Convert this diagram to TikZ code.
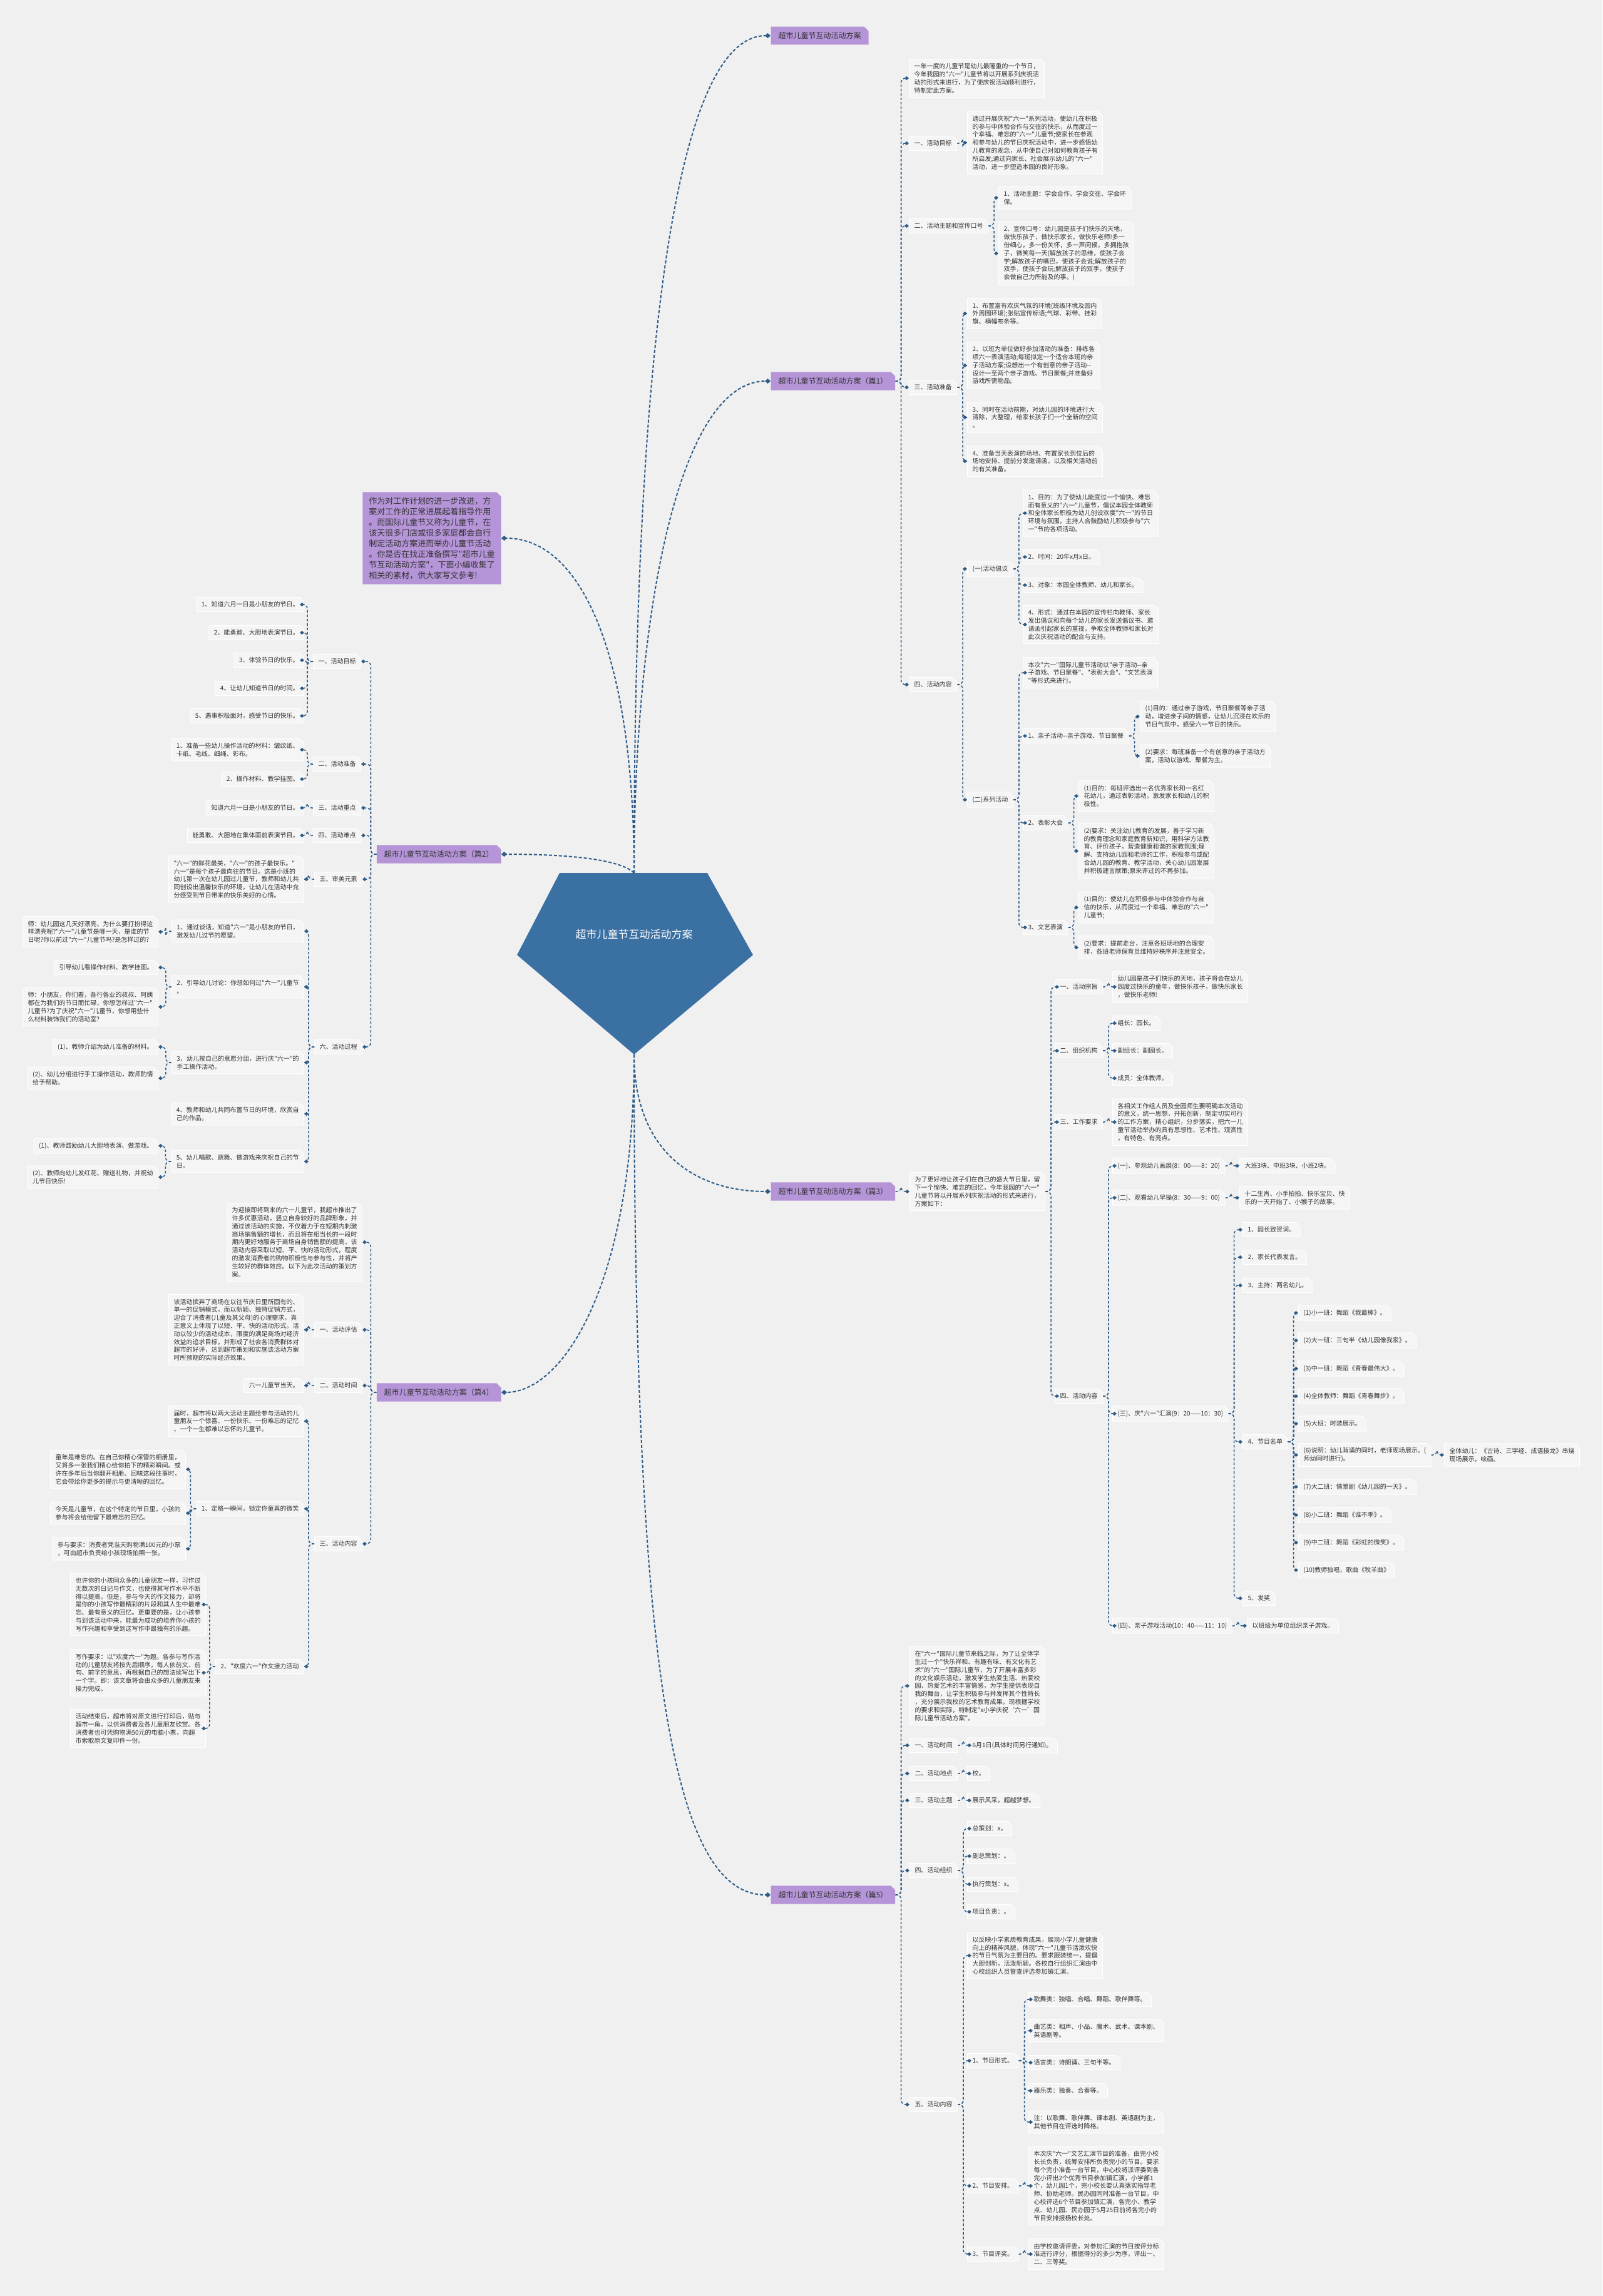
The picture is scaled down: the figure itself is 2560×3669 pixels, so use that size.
\documentclass[tikz,border=0pt]{standalone}
\usepackage{fontspec}
\newfontfamily\cjk{Noto Sans CJK SC}
\usepackage{xcolor}
\definecolor{mmbg}{RGB}{240,240,240}
\definecolor{mmbox}{RGB}{245,245,245}
\definecolor{mmpurple}{RGB}{181,148,216}
\definecolor{mmblue}{RGB}{46,92,135}
\definecolor{mmroot}{RGB}{59,112,163}
\definecolor{mmtext}{RGB}{51,51,51}
\usepackage{tikz}
\usetikzlibrary{arrows.meta, shapes.misc}

\tikzset{
  leaf/.style={chamfered rectangle, chamfered rectangle corners=north east, chamfered rectangle xsep=4pt, fill=mmbox, draw=white, line width=1pt, inner xsep=4pt, inner ysep=4pt, text=mmtext, align=left, font=\cjk\fontsize{10pt}{12.8pt}\selectfont},
  head/.style={leaf, fill=mmpurple, draw=none, inner xsep=8pt, inner ysep=6pt, font=\cjk\fontsize{12pt}{15pt}\selectfont},
  note/.style={head, inner xsep=6pt, inner ysep=5pt, font=\cjk\fontsize{13pt}{17pt}\selectfont},
  link/.style={draw=mmblue, line width=1.5pt, dash pattern=on 4pt off 3pt, rounded corners=7pt, -{Diamond[length=7pt,width=6pt]}},
  rootlink/.style={draw=mmblue, line width=2pt, dash pattern=on 5pt off 3pt, -{Diamond[length=9pt,width=8pt]}},
}

\begin{document}
\begin{tikzpicture}[x=1pt, y=-1pt]
\fill[mmbg] (0,0) rectangle (2560,3669);
\useasboundingbox (0,0) rectangle (2560,3669);

\fill[mmroot] (894,1395) -- (1130,1395) -- (1203,1526) -- (1013,1685) -- (826,1526) -- cycle;
\node[font=\cjk\fontsize{17pt}{20pt}\selectfont, text=white] (root) at (1013,1493) {超市儿童节互动活动方案};
\coordinate (rt) at (1013,1395);
\coordinate (rb) at (1013,1685);

\node[head, anchor=west] (b0) at (1231,57) {超市儿童节互动活动方案};
\node[head, anchor=west] (b1) at (1231,609) {超市儿童节互动活动方案（篇1）};
\node[head, anchor=west] (b3) at (1231,1904) {超市儿童节互动活动方案（篇3）};
\node[head, anchor=west] (b5) at (1231,3028) {超市儿童节互动活动方案（篇5）};
\node[note, anchor=east] (lint) at (801,860) {作为对工作计划的进一步改进，方\\案对工作的正常进展起着指导作用\\。而国际儿童节又称为儿童节，在\\该天很多门店或很多家庭都会自行\\制定活动方案进而举办儿童节活动\\。你是否在找正准备撰写"超市儿童\\节互动活动方案"，下面小编收集了\\相关的素材，供大家写文参考!};
\node[head, anchor=east] (b2) at (801,1365) {超市儿童节互动活动方案（篇2）};
\node[head, anchor=east] (b4) at (801,2225) {超市儿童节互动活动方案（篇4）};

\node[leaf, anchor=west] (b1i) at (1452,125) {一年一度的儿童节是幼儿最隆重的一个节日，\\今年我园的"六一"儿童节将以开展系列庆祝活\\动的形式来进行，为了使庆祝活动顺利进行，\\特制定此方案。};
\node[leaf, anchor=west] (b1a) at (1452,229) {一、活动目标};
\node[leaf, anchor=west] (b1a1) at (1545,228) {通过开展庆祝"六一"系列活动，使幼儿在积极\\的参与中体验合作与交往的快乐，从而度过一\\个幸福、难忘的"六一"儿童节;使家长在参观\\和参与幼儿的节日庆祝活动中，进一步感悟幼\\儿教育的观念，从中使自己对如何教育孩子有\\所启发;通过向家长、社会展示幼儿的"六一"\\活动，进一步塑造本园的良好形象。};
\node[leaf, anchor=west] (b1b) at (1452,361) {二、活动主题和宣传口号};
\node[leaf, anchor=west] (b1b1) at (1595,316) {1、活动主题：学会合作、学会交往、学会环\\保。};
\node[leaf, anchor=west] (b1b2) at (1595,405) {2、宣传口号：幼儿园是孩子们快乐的天地，\\做快乐孩子，做快乐家长，做快乐老师!多一\\份细心，多一份关怀，多一声问候，多拥抱孩\\子，微笑每一天(解放孩子的思维，使孩子会\\学;解放孩子的嘴巴，使孩子会说;解放孩子的\\双手，使孩子会玩;解放孩子的双手，使孩子\\会做自己力所能及的事。)};
\node[leaf, anchor=west] (b1c) at (1452,619) {三、活动准备};
\node[leaf, anchor=west] (b1c1) at (1545,501) {1、布置富有欢庆气氛的环境(班级环境及园内\\外周围环境);张贴宣传标语;气球、彩带、挂彩\\旗、横幅布条等。};
\node[leaf, anchor=west] (b1c2) at (1545,584) {2、以班为单位做好参加活动的准备：排练各\\项六一表演活动;每班拟定一个适合本班的亲\\子活动方案;设想出一个有创意的亲子活动--\\设计一至两个亲子游戏、节日聚餐;并准备好\\游戏所需物品;};
\node[leaf, anchor=west] (b1c3) at (1545,667) {3、同时在活动前期，对幼儿园的环境进行大\\清除，大整理，给家长孩子们一个全新的空间\\。};
\node[leaf, anchor=west] (b1c4) at (1545,737) {4、准备当天表演的场地、布置家长到位后的\\场地安排、提前分发邀请函，以及相关活动前\\的有关准备。};
\node[leaf, anchor=west] (b1d) at (1452,1094) {四、活动内容};
\node[leaf, anchor=west] (b1d1) at (1545,909) {(一)活动倡议};
\node[leaf, anchor=west] (b1d11) at (1634,820) {1、目的：为了使幼儿能度过一个愉快、难忘\\而有意义的"六一"儿童节，倡议本园全体教师\\和全体家长积极为幼儿创设欢度"六一"的节日\\环境与氛围，主持人合鼓励幼儿积极参与"六\\一"节的各项活动。};
\node[leaf, anchor=west] (b1d12) at (1634,890) {2、时间：20年x月x日。};
\node[leaf, anchor=west] (b1d13) at (1634,935) {3、对象：本园全体教师、幼儿和家长。};
\node[leaf, anchor=west] (b1d14) at (1634,998) {4、形式：通过在本园的宣传栏向教师、家长\\发出倡议和向每个幼儿的家长发送倡议书、邀\\请函引起家长的重视，争取全体教师和家长对\\此次庆祝活动的配合与支持。};
\node[leaf, anchor=west] (b1d2) at (1545,1278) {(二)系列活动};
\node[leaf, anchor=west] (b1d21) at (1634,1075) {本次"六一"国际儿童节活动以"亲子活动--亲\\子游戏、节日聚餐"、"表彰大会"、"文艺表演\\"等形式来进行。};
\node[leaf, anchor=west] (b1d22) at (1634,1176) {1、亲子活动--亲子游戏、节日聚餐};
\node[leaf, anchor=west] (b1d221) at (1821,1145) {(1)目的：通过亲子游戏，节日聚餐等亲子活\\动，增进亲子间的情感，让幼儿沉浸在欢乐的\\节日气氛中，感受六一节日的快乐。};
\node[leaf, anchor=west] (b1d222) at (1821,1208) {(2)要求：每班准备一个有创意的亲子活动方\\案，活动以游戏、聚餐为主。};
\node[leaf, anchor=west] (b1d23) at (1634,1315) {2、表彰大会};
\node[leaf, anchor=west] (b1d231) at (1723,1272) {(1)目的：每班评选出一名优秀家长和一名红\\花幼儿，通过表彰活动，激发家长和幼儿的积\\极性。};
\node[leaf, anchor=west] (b1d232) at (1723,1360) {(2)要求：关注幼儿教育的发展，善于学习新\\的教育理念和家庭教育新知识，用科学方法教\\育、评价孩子，营造健康和谐的家教氛围;理\\解、支持幼儿园和老师的工作，积极参与或配\\合幼儿园的教育、教学活动，关心幼儿园发展\\并积极建言献策;原来评过的不再参加。};
\node[leaf, anchor=west] (b1d24) at (1634,1482) {3、文艺表演};
\node[leaf, anchor=west] (b1d241) at (1723,1450) {(1)目的：使幼儿在积极参与中体验合作与自\\信的快乐，从而度过一个幸福、难忘的"六一"\\儿童节;};
\node[leaf, anchor=west] (b1d242) at (1723,1514) {(2)要求：提前走台，注意各班场地的合理安\\排，各班老师保育员维持好秩序并注意安全。};

\node[leaf, anchor=west] (b3i) at (1453,1904) {为了更好地让孩子们在自己的盛大节日里，留\\下一个愉快、难忘的回忆，今年我园的"六一"\\儿童节将以开展系列庆祝活动的形式来进行，\\方案如下：};
\node[leaf, anchor=west] (b3a) at (1685,1577) {一、活动宗旨};
\node[leaf, anchor=west] (b3a1) at (1777,1577) {幼儿园是孩子们快乐的天地，孩子将会在幼儿\\园度过快乐的童年，做快乐孩子，做快乐家长\\，做快乐老师!};
\node[leaf, anchor=west] (b3b) at (1685,1679) {二、组织机构};
\node[leaf, anchor=west] (b3b1) at (1777,1635) {组长：园长。};
\node[leaf, anchor=west] (b3b2) at (1777,1679) {副组长：副园长。};
\node[leaf, anchor=west] (b3b3) at (1777,1723) {成员：全体教师。};
\node[leaf, anchor=west] (b3c) at (1685,1793) {三、工作要求};
\node[leaf, anchor=west] (b3c1) at (1777,1793) {各相关工作组人员及全园师生要明确本次活动\\的意义，统一思想，开拓创新，制定切实可行\\的工作方案，精心组织，分步落实，把六一儿\\童节活动举办的具有思想性、艺术性、观赏性\\，有特色、有亮点。};
\node[leaf, anchor=west] (b3d) at (1685,2231) {四、活动内容};
\node[leaf, anchor=west] (b3d1) at (1777,1863) {(一)、参观幼儿画展(8：00——8：20)};
\node[leaf, anchor=west] (b3d11) at (1980,1863) {大班3块、中班3块、小班2块。};
\node[leaf, anchor=west] (b3d2) at (1777,1914) {(二)、观看幼儿早操(8：30——9：00)};
\node[leaf, anchor=west] (b3d21) at (1980,1914) {十二生肖、小手拍拍、快乐宝贝、快\\乐的一天开始了、小猴子的故事。};
\node[leaf, anchor=west] (b3d3) at (1777,2259) {(三)、庆"六一"汇演(9：20——10：30)};
\node[leaf, anchor=west] (b3d31) at (1985,1965) {1、园长致贺词。};
\node[leaf, anchor=west] (b3d32) at (1985,2009) {2、家长代表发言。};
\node[leaf, anchor=west] (b3d33) at (1985,2054) {3、主持：两名幼儿。};
\node[leaf, anchor=west] (b3d34) at (1985,2304) {4、节目名单};
\node[leaf, anchor=west] (b3d35) at (1985,2554) {5、发奖};
\node[leaf, anchor=west] (p1) at (2074,2098) {(1)小一班：舞蹈《我最棒》。};
\node[leaf, anchor=west] (p2) at (2074,2142) {(2)大一班：三句半《幼儿园像我家》。};
\node[leaf, anchor=west] (p3) at (2074,2187) {(3)中一班：舞蹈《青春最伟大》。};
\node[leaf, anchor=west] (p4) at (2074,2231) {(4)全体教师：舞蹈《青春舞步》。};
\node[leaf, anchor=west] (p5) at (2074,2275) {(5)大班：时装展示。};
\node[leaf, anchor=west] (p6) at (2074,2325) {(6)说明：幼儿背诵的同时，老师现场展示。(\\师幼同时进行)。};
\node[leaf, anchor=west] (p6a) at (2307,2325) {全体幼儿：《古诗、三字经、成语接龙》串烧\\现场展示，绘画。};
\node[leaf, anchor=west] (p7) at (2074,2376) {(7)大二班：情景剧《幼儿园的一天》。};
\node[leaf, anchor=west] (p8) at (2074,2421) {(8)小二班：舞蹈《谁不乖》。};
\node[leaf, anchor=west] (p9) at (2074,2465) {(9)中二班：舞蹈《彩虹的微笑》。};
\node[leaf, anchor=west] (p10) at (2074,2509) {(10)教师独唱，歌曲《牧羊曲》};
\node[leaf, anchor=west] (b3d4) at (1777,2598) {(四)、亲子游戏活动(10：40——11：10)};
\node[leaf, anchor=west] (b3d41) at (1992,2598) {以班级为单位组织亲子游戏。};

\node[leaf, anchor=west] (b5i) at (1453,2694) {在"六一"国际儿童节来临之际，为了让全体学\\生过一个"快乐祥和、有趣有味、有文化有艺\\术"的"六一"国际儿童节，为了开展丰富多彩\\的文化娱乐活动，激发学生热爱生活、热爱校\\园、热爱艺术的丰富情感，为学生提供表现自\\我的舞台，让学生积极参与并发挥其个性特长\\，充分展示我校的艺术教育成果。现根据学校\\的要求和实际，特制定"x小学庆祝‘六一’国\\际儿童节活动方案"。};
\node[leaf, anchor=west] (b5a) at (1453,2789) {一、活动时间};
\node[leaf, anchor=west] (b5a1) at (1545,2789) {6月1日(具体时间另行通知)。};
\node[leaf, anchor=west] (b5b) at (1453,2834) {二、活动地点};
\node[leaf, anchor=west] (b5b1) at (1545,2834) {校。};
\node[leaf, anchor=west] (b5c) at (1453,2877) {三、活动主题};
\node[leaf, anchor=west] (b5c1) at (1545,2877) {展示风采，超越梦想。};
\node[leaf, anchor=west] (b5d) at (1453,2989) {四、活动组织};
\node[leaf, anchor=west] (b5d1) at (1545,2922) {总策划：x。};
\node[leaf, anchor=west] (b5d2) at (1545,2966) {副总策划：。};
\node[leaf, anchor=west] (b5d3) at (1545,3011) {执行策划：x。};
\node[leaf, anchor=west] (b5d4) at (1545,3055) {项目负责：。};
\node[leaf, anchor=west] (b5e) at (1453,3363) {五、活动内容};
\node[leaf, anchor=west] (b5e1) at (1545,3125) {以反映小学素质教育成果，展现小学儿童健康\\向上的精神风貌，体现"六一"儿童节活泼欢快\\的节日气氛为主要目的。要求服装统一，提倡\\大胆创新，活泼新颖。各校自行组织汇演由中\\心校组织人员督查评选参加镇汇演。};
\node[leaf, anchor=west] (b5e2) at (1545,3293) {1、节目形式。};
\node[leaf, anchor=west] (f1) at (1643,3195) {歌舞类：独唱、合唱、舞蹈、歌伴舞等。};
\node[leaf, anchor=west] (f2) at (1643,3245) {曲艺类：相声、小品、魔术、武术、课本剧、\\英语剧等。};
\node[leaf, anchor=west] (f3) at (1643,3296) {语言类：诗朗诵、三句半等。};
\node[leaf, anchor=west] (f4) at (1643,3341) {器乐类：独奏、合奏等。};
\node[leaf, anchor=west] (f5) at (1643,3391) {注：以歌舞、歌伴舞、课本剧、英语剧为主，\\其他节目在评选时降格。};
\node[leaf, anchor=west] (b5e3) at (1545,3493) {2、节目安排。};
\node[leaf, anchor=west] (b5e31) at (1643,3493) {本次庆"六一"文艺汇演节目的准备，由完小校\\长长负责，统筹安排所负责完小的节目。要求\\每个完小准备一台节目，中心校将派评委到各\\完小评出2个优秀节目参加镇汇演，小学部1\\个，幼儿园1个，完小校长要认真落实指导老\\师、协助老师。民办园同时准备一台节目，中\\心校评选6个节目参加镇汇演，各完小、教学\\点、幼儿园、民办园于5月25日前将各完小的\\节目安排报杨校长处。};
\node[leaf, anchor=west] (b5e4) at (1545,3602) {3、节目评奖。};
\node[leaf, anchor=west] (b5e41) at (1643,3602) {由学校邀请评委，对参加汇演的节目按评分标\\准进行评分，根据得分的多少为序，评出一、\\二、三等奖。};

\node[leaf, anchor=east] (b2a) at (577,1057) {一、活动目标};
\node[leaf, anchor=east] (b2a1) at (486,966) {1、知道六月一日是小朋友的节日。};
\node[leaf, anchor=east] (b2a2) at (486,1011) {2、能勇敢、大胆地表演节目。};
\node[leaf, anchor=east] (b2a3) at (486,1055) {3、体验节日的快乐。};
\node[leaf, anchor=east] (b2a4) at (486,1100) {4、让幼儿知道节日的时间。};
\node[leaf, anchor=east] (b2a5) at (486,1144) {5、遇事积极面对，感受节日的快乐。};
\node[leaf, anchor=east] (b2b) at (577,1221) {二、活动准备};
\node[leaf, anchor=east] (b2b1) at (486,1198) {1、准备一些幼儿操作活动的材料：皱纹纸、\\卡纸、毛线、细绳、彩布。};
\node[leaf, anchor=east] (b2b2) at (486,1245) {2、操作材料、教学挂图。};
\node[leaf, anchor=east] (b2c) at (577,1291) {三、活动重点};
\node[leaf, anchor=east] (b2c1) at (486,1291) {知道六月一日是小朋友的节日。};
\node[leaf, anchor=east] (b2d) at (577,1335) {四、活动难点};
\node[leaf, anchor=east] (b2d1) at (486,1335) {能勇敢、大胆地在集体面前表演节目。};
\node[leaf, anchor=east] (b2e) at (579,1405) {五、审美元素};
\node[leaf, anchor=east] (b2e1) at (486,1405) {"六一"的鲜花最美，"六一"的孩子最快乐。"\\六一"是每个孩子最向往的节日。这是小班的\\幼儿第一次在幼儿园过儿童节，教师和幼儿共\\同创设出温馨快乐的环境，让幼儿在活动中充\\分感受到节日带来的快乐美好的心情。};
\node[leaf, anchor=east] (b2f) at (579,1673) {六、活动过程};
\node[leaf, anchor=east] (b2f1) at (486,1488) {1、通过谈话，知道"六一"是小朋友的节日，\\激发幼儿过节的愿望。};
\node[leaf, anchor=east] (b2f11) at (253,1489) {师：幼儿园这几天好漂亮，为什么要打扮得这\\样漂亮呢?"六一"儿童节是哪一天，是谁的节\\日呢?你以前过"六一"儿童节吗?是怎样过的?};
\node[leaf, anchor=east] (b2f2) at (486,1577) {2、引导幼儿讨论：你想如何过"六一"儿童节\\。};
\node[leaf, anchor=east] (b2f21) at (253,1546) {引导幼儿看操作材料、教学挂图。};
\node[leaf, anchor=east] (b2f22) at (253,1609) {师：小朋友，你们看，各行各业的叔叔、阿姨\\都在为我们的节日而忙碌，你想怎样过"六一"\\儿童节?为了庆祝"六一"儿童节，你想用些什\\么材料装饰我们的活动室?};
\node[leaf, anchor=east] (b2f3) at (486,1698) {3、幼儿按自己的意愿分组，进行庆"六一"的\\手工操作活动。};
\node[leaf, anchor=east] (b2f31) at (253,1673) {(1)、教师介绍为幼儿准备的材料。};
\node[leaf, anchor=east] (b2f32) at (253,1723) {(2)、幼儿分组进行手工操作活动，教师酌情\\给予帮助。};
\node[leaf, anchor=east] (b2f4) at (486,1780) {4、教师和幼儿共同布置节日的环境，欣赏自\\己的作品。};
\node[leaf, anchor=east] (b2f5) at (486,1856) {5、幼儿唱歌、跳舞、做游戏来庆祝自己的节\\日。};
\node[leaf, anchor=east] (b2f51) at (253,1831) {(1)、教师鼓励幼儿大胆地表演、做游戏。};
\node[leaf, anchor=east] (b2f52) at (253,1881) {(2)、教师向幼儿发红花、赠送礼物，并祝幼\\儿节日快乐!};

\node[leaf, anchor=east] (b4i) at (579,1985) {为迎接即将到来的六一儿童节，我超市推出了\\许多优惠活动，竖立自身较好的品牌形象，并\\通过该活动的实施，不仅着力于在短期内刺激\\商场销售额的增长，而且将在相当长的一段时\\期内更好地服务于商场自身销售额的提高，该\\活动内容采取以短、平、快的活动形式，程度\\的激发消费者的购物积极性与参与性，并将产\\生较好的群体效应。以下为此次活动的策划方\\案。};
\node[leaf, anchor=east] (b4a) at (579,2125) {一、活动评估};
\node[leaf, anchor=east] (b4a1) at (486,2125) {该活动摈弃了商场在以往节庆日里所固有的、\\单一的促销模式，而以新颖、独特促销方式，\\迎合了消费者(儿童及其父母)的心理需求，真\\正意义上体现了以短、平、快的活动形式。活\\动以较少的活动成本，限度的满足商场对经济\\效益的追求目标，并形成了社会各消费群体对\\超市的好评，达到超市策划和实施该活动方案\\时所预期的实际经济效果。};
\node[leaf, anchor=east] (b4b) at (579,2214) {二、活动时间};
\node[leaf, anchor=east] (b4b1) at (486,2214) {六一儿童节当天。};
\node[leaf, anchor=east] (b4c) at (579,2467) {三、活动内容};
\node[leaf, anchor=east] (b4c1) at (486,2271) {届时，超市将以两大活动主题给参与活动的儿\\童朋友一个惊喜、一份快乐、一份难忘的记忆\\、一个一生都难以忘怀的儿童节。};
\node[leaf, anchor=east] (b4c2) at (486,2411) {1、定格一瞬间，锁定你童真的微笑};
\node[leaf, anchor=east] (b4c21) at (297,2348) {童年是难忘的。在自己你精心保管的相册里，\\又将多一张我们精心给你拍下的精彩瞬间。或\\许在多年后当你翻开相册、回味这段往事时，\\它会带给你更多的提示与更清晰的回忆。};
\node[leaf, anchor=east] (b4c22) at (297,2418) {今天是儿童节，在这个特定的节日里，小孩的\\参与将会给他留下最难忘的回忆。};
\node[leaf, anchor=east] (b4c23) at (297,2475) {参与要求：消费者凭当天购物满100元的小票\\，可由超市负责给小孩现场拍照一张。};
\node[leaf, anchor=east] (b4c3) at (486,2663) {2、"欢度六一"作文接力活动};
\node[leaf, anchor=east] (b4c31) at (329,2564) {也许你的小孩同众多的儿童朋友一样，习作过\\无数次的日记与作文，也使得其写作水平不断\\得以提高。但是，参与今天的作文接力，却将\\是你的小孩写作最精彩的片段和其人生中最难\\忘、最有意义的回忆。更重要的是，让小孩参\\与到该活动中来，能最为成功的培养你小孩的\\写作兴趣和享受到这写作中最独有的乐趣。};
\node[leaf, anchor=east] (b4c32) at (329,2673) {写作要求：以"欢度六一"为题。各参与写作活\\动的儿童朋友将按先后顺序，每人依前文、前\\句、前字的意思，再根据自己的想法续写出下\\一个字。即：该文章将会由众多的儿童朋友来\\接力完成。};
\node[leaf, anchor=east] (b4c33) at (329,2762) {活动结束后，超市将对原文进行打印后，贴与\\超市一角，以供消费者及各儿童朋友欣赏。各\\消费者也可凭购物满50元的电脑小票，向超\\市索取原文复印件一份。};

\draw[rootlink] (rt) .. controls (1013,700) and (1060,57) .. (b0.west);
\draw[rootlink] (rt) .. controls (1013,1000) and (1080,609) .. (b1.west);
\draw[rootlink] (rb) .. controls (1013,1840) and (1110,1904) .. (b3.west);
\draw[rootlink] (rb) .. controls (1013,2700) and (1080,3028) .. (b5.west);
\draw[rootlink] (rt) .. controls (1013,1050) and (930,860) .. (lint.east);
\draw[rootlink] (rt) .. controls (990,1372) and (900,1365) .. (b2.east);
\draw[rootlink] (rb) .. controls (1013,2050) and (900,2225) .. (b4.east);

\draw[link] (b1.east) -- ++(9,0) |- (b1i.west);
\draw[link] (b1.east) -- ++(9,0) |- (b1a.west);
\draw[link] (b1.east) -- ++(9,0) |- (b1b.west);
\draw[link] (b1.east) -- ++(9,0) |- (b1c.west);
\draw[link] (b1.east) -- ++(9,0) |- (b1d.west);
\draw[link] (b1a.east) -- ++(9,0) |- (b1a1.west);
\draw[link] (b1b.east) -- ++(9,0) |- (b1b1.west);
\draw[link] (b1b.east) -- ++(9,0) |- (b1b2.west);
\draw[link] (b1c.east) -- ++(9,0) |- (b1c1.west);
\draw[link] (b1c.east) -- ++(9,0) |- (b1c2.west);
\draw[link] (b1c.east) -- ++(9,0) |- (b1c3.west);
\draw[link] (b1c.east) -- ++(9,0) |- (b1c4.west);
\draw[link] (b1d.east) -- ++(9,0) |- (b1d1.west);
\draw[link] (b1d.east) -- ++(9,0) |- (b1d2.west);
\draw[link] (b1d1.east) -- ++(9,0) |- (b1d11.west);
\draw[link] (b1d1.east) -- ++(9,0) |- (b1d12.west);
\draw[link] (b1d1.east) -- ++(9,0) |- (b1d13.west);
\draw[link] (b1d1.east) -- ++(9,0) |- (b1d14.west);
\draw[link] (b1d2.east) -- ++(9,0) |- (b1d21.west);
\draw[link] (b1d2.east) -- ++(9,0) |- (b1d22.west);
\draw[link] (b1d2.east) -- ++(9,0) |- (b1d23.west);
\draw[link] (b1d2.east) -- ++(9,0) |- (b1d24.west);
\draw[link] (b1d22.east) -- ++(9,0) |- (b1d221.west);
\draw[link] (b1d22.east) -- ++(9,0) |- (b1d222.west);
\draw[link] (b1d23.east) -- ++(9,0) |- (b1d231.west);
\draw[link] (b1d23.east) -- ++(9,0) |- (b1d232.west);
\draw[link] (b1d24.east) -- ++(9,0) |- (b1d241.west);
\draw[link] (b1d24.east) -- ++(9,0) |- (b1d242.west);

\draw[link] (b3.east) -- ++(9,0) |- (b3i.west);
\draw[link] (b3i.east) -- ++(9,0) |- (b3a.west);
\draw[link] (b3i.east) -- ++(9,0) |- (b3b.west);
\draw[link] (b3i.east) -- ++(9,0) |- (b3c.west);
\draw[link] (b3i.east) -- ++(9,0) |- (b3d.west);
\draw[link] (b3a.east) -- ++(9,0) |- (b3a1.west);
\draw[link] (b3b.east) -- ++(9,0) |- (b3b1.west);
\draw[link] (b3b.east) -- ++(9,0) |- (b3b2.west);
\draw[link] (b3b.east) -- ++(9,0) |- (b3b3.west);
\draw[link] (b3c.east) -- ++(9,0) |- (b3c1.west);
\draw[link] (b3d.east) -- ++(9,0) |- (b3d1.west);
\draw[link] (b3d.east) -- ++(9,0) |- (b3d2.west);
\draw[link] (b3d.east) -- ++(9,0) |- (b3d3.west);
\draw[link] (b3d.east) -- ++(9,0) |- (b3d4.west);
\draw[link] (b3d1.east) -- ++(9,0) |- (b3d11.west);
\draw[link] (b3d2.east) -- ++(9,0) |- (b3d21.west);
\draw[link] (b3d4.east) -- ++(9,0) |- (b3d41.west);
\draw[link] (b3d3.east) -- ++(9,0) |- (b3d31.west);
\draw[link] (b3d3.east) -- ++(9,0) |- (b3d32.west);
\draw[link] (b3d3.east) -- ++(9,0) |- (b3d33.west);
\draw[link] (b3d3.east) -- ++(9,0) |- (b3d34.west);
\draw[link] (b3d3.east) -- ++(9,0) |- (b3d35.west);
\draw[link] (b3d34.east) -- ++(9,0) |- (p1.west);
\draw[link] (b3d34.east) -- ++(9,0) |- (p2.west);
\draw[link] (b3d34.east) -- ++(9,0) |- (p3.west);
\draw[link] (b3d34.east) -- ++(9,0) |- (p4.west);
\draw[link] (b3d34.east) -- ++(9,0) |- (p5.west);
\draw[link] (b3d34.east) -- ++(9,0) |- (p6.west);
\draw[link] (b3d34.east) -- ++(9,0) |- (p7.west);
\draw[link] (b3d34.east) -- ++(9,0) |- (p8.west);
\draw[link] (b3d34.east) -- ++(9,0) |- (p9.west);
\draw[link] (b3d34.east) -- ++(9,0) |- (p10.west);
\draw[link] (p6.east) -- ++(9,0) |- (p6a.west);

\draw[link] (b5.east) -- ++(9,0) |- (b5i.west);
\draw[link] (b5.east) -- ++(9,0) |- (b5a.west);
\draw[link] (b5.east) -- ++(9,0) |- (b5b.west);
\draw[link] (b5.east) -- ++(9,0) |- (b5c.west);
\draw[link] (b5.east) -- ++(9,0) |- (b5d.west);
\draw[link] (b5.east) -- ++(9,0) |- (b5e.west);
\draw[link] (b5a.east) -- ++(9,0) |- (b5a1.west);
\draw[link] (b5b.east) -- ++(9,0) |- (b5b1.west);
\draw[link] (b5c.east) -- ++(9,0) |- (b5c1.west);
\draw[link] (b5d.east) -- ++(9,0) |- (b5d1.west);
\draw[link] (b5d.east) -- ++(9,0) |- (b5d2.west);
\draw[link] (b5d.east) -- ++(9,0) |- (b5d3.west);
\draw[link] (b5d.east) -- ++(9,0) |- (b5d4.west);
\draw[link] (b5e.east) -- ++(9,0) |- (b5e1.west);
\draw[link] (b5e.east) -- ++(9,0) |- (b5e2.west);
\draw[link] (b5e.east) -- ++(9,0) |- (b5e3.west);
\draw[link] (b5e.east) -- ++(9,0) |- (b5e4.west);
\draw[link] (b5e2.east) -- ++(9,0) |- (f1.west);
\draw[link] (b5e2.east) -- ++(9,0) |- (f2.west);
\draw[link] (b5e2.east) -- ++(9,0) |- (f3.west);
\draw[link] (b5e2.east) -- ++(9,0) |- (f4.west);
\draw[link] (b5e2.east) -- ++(9,0) |- (f5.west);
\draw[link] (b5e3.east) -- ++(9,0) |- (b5e31.west);
\draw[link] (b5e4.east) -- ++(9,0) |- (b5e41.west);

\draw[link] (b2.west) -- ++(-9,0) |- (b2a.east);
\draw[link] (b2.west) -- ++(-9,0) |- (b2b.east);
\draw[link] (b2.west) -- ++(-9,0) |- (b2c.east);
\draw[link] (b2.west) -- ++(-9,0) |- (b2d.east);
\draw[link] (b2.west) -- ++(-9,0) |- (b2e.east);
\draw[link] (b2.west) -- ++(-9,0) |- (b2f.east);
\draw[link] (b2a.west) -- ++(-9,0) |- (b2a1.east);
\draw[link] (b2a.west) -- ++(-9,0) |- (b2a2.east);
\draw[link] (b2a.west) -- ++(-9,0) |- (b2a3.east);
\draw[link] (b2a.west) -- ++(-9,0) |- (b2a4.east);
\draw[link] (b2a.west) -- ++(-9,0) |- (b2a5.east);
\draw[link] (b2b.west) -- ++(-9,0) |- (b2b1.east);
\draw[link] (b2b.west) -- ++(-9,0) |- (b2b2.east);
\draw[link] (b2c.west) -- ++(-9,0) |- (b2c1.east);
\draw[link] (b2d.west) -- ++(-9,0) |- (b2d1.east);
\draw[link] (b2e.west) -- ++(-9,0) |- (b2e1.east);
\draw[link] (b2f.west) -- ++(-9,0) |- (b2f1.east);
\draw[link] (b2f.west) -- ++(-9,0) |- (b2f2.east);
\draw[link] (b2f.west) -- ++(-9,0) |- (b2f3.east);
\draw[link] (b2f.west) -- ++(-9,0) |- (b2f4.east);
\draw[link] (b2f.west) -- ++(-9,0) |- (b2f5.east);
\draw[link] (b2f1.west) -- ++(-9,0) |- (b2f11.east);
\draw[link] (b2f2.west) -- ++(-9,0) |- (b2f21.east);
\draw[link] (b2f2.west) -- ++(-9,0) |- (b2f22.east);
\draw[link] (b2f3.west) -- ++(-9,0) |- (b2f31.east);
\draw[link] (b2f3.west) -- ++(-9,0) |- (b2f32.east);
\draw[link] (b2f5.west) -- ++(-9,0) |- (b2f51.east);
\draw[link] (b2f5.west) -- ++(-9,0) |- (b2f52.east);

\draw[link] (b4.west) -- ++(-9,0) |- (b4i.east);
\draw[link] (b4.west) -- ++(-9,0) |- (b4a.east);
\draw[link] (b4.west) -- ++(-9,0) |- (b4b.east);
\draw[link] (b4.west) -- ++(-9,0) |- (b4c.east);
\draw[link] (b4a.west) -- ++(-9,0) |- (b4a1.east);
\draw[link] (b4b.west) -- ++(-9,0) |- (b4b1.east);
\draw[link] (b4c.west) -- ++(-9,0) |- (b4c1.east);
\draw[link] (b4c.west) -- ++(-9,0) |- (b4c2.east);
\draw[link] (b4c.west) -- ++(-9,0) |- (b4c3.east);
\draw[link] (b4c2.west) -- ++(-9,0) |- (b4c21.east);
\draw[link] (b4c2.west) -- ++(-9,0) |- (b4c22.east);
\draw[link] (b4c2.west) -- ++(-9,0) |- (b4c23.east);
\draw[link] (b4c3.west) -- ++(-9,0) |- (b4c31.east);
\draw[link] (b4c3.west) -- ++(-9,0) |- (b4c32.east);
\draw[link] (b4c3.west) -- ++(-9,0) |- (b4c33.east);
\end{tikzpicture}
\end{document}
